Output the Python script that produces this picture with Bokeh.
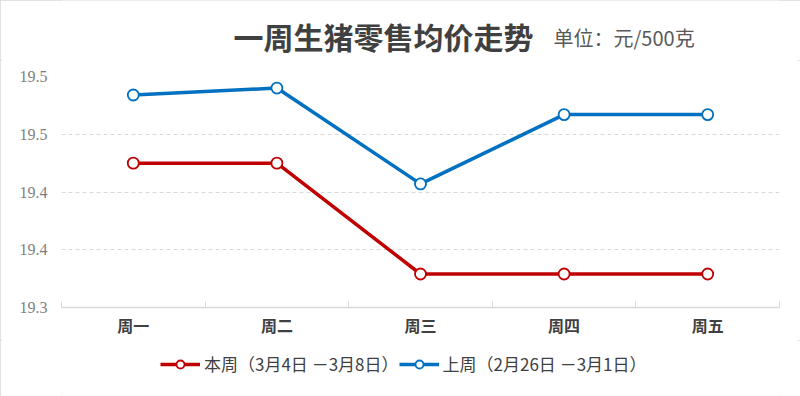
from bokeh.plotting import figure
from bokeh.layouts import column
from bokeh.models import FixedTicker, Label, Legend, LegendItem, ColumnDataSource, Range1d
from bokeh.embed import file_html
from bokeh.resources import INLINE

days = ["周一", "周二", "周三", "周四", "周五"]
this_week = [19.425, 19.425, 19.329, 19.329, 19.329]
last_week = [19.484, 19.49, 19.407, 19.467, 19.467]
y_ticks = [19.3, 19.35, 19.4, 19.45, 19.5]
y_tick_labels = ["19.3", "19.4", "19.4", "19.5", "19.5"]
title_text = "一周生猪零售均价走势"
unit_text = "单位：元/500克"
this_label = "本周（3月4日 －3月8日）"
last_label = "上周（2月26日 －3月1日）"

W = 800
HEAD_H = 60
MAIN_H = 280
FOOT_H = 396 - HEAD_H - MAIN_H
LEFT = 61
RIGHT = 779
red = "#C00000"
blue = "#0070C0"


def bare(fig):
    fig.axis.visible = False
    fig.grid.visible = False
    fig.outline_line_color = None


common = dict(output_backend="svg", toolbar_location=None,
              min_border_left=LEFT, min_border_right=W - RIGHT)

# header figure holding the title texts (frame aligned with the main chart)
h = figure(width=W, height=HEAD_H, x_range=Range1d(LEFT, RIGHT), y_range=Range1d(0, HEAD_H),
           min_border_top=0, min_border_bottom=0, **common)
bare(h)
h.add_layout(Label(x=383, y=HEAD_H - 35, text=title_text,
                   text_align="center", text_baseline="middle", text_font="Noto Sans CJK SC",
                   text_font_style="bold", text_font_size="30px", text_color="#404040"))
h.add_layout(Label(x=553, y=HEAD_H - 37, text=unit_text,
                   text_align="left", text_baseline="middle", text_font="Noto Sans CJK SC",
                   text_font_size="20px", text_color="#595959"))

# main chart
xs = [i + 0.5 for i in range(len(days))]
src = ColumnDataSource(dict(x=xs, a=this_week, b=last_week))

p = figure(width=W, height=MAIN_H,
           x_range=Range1d(0, len(days)), y_range=Range1d(y_ticks[0], y_ticks[-1]),
           min_border_top=76 - HEAD_H, min_border_bottom=HEAD_H + MAIN_H - 307, **common)
p.outline_line_color = None

p.xaxis.ticker = FixedTicker(ticks=xs, minor_ticks=list(range(len(days) + 1)))
p.xaxis.major_label_overrides = {x: d for x, d in zip(xs, days)}
p.xaxis.major_tick_line_color = None
p.xaxis.major_tick_in = 0
p.xaxis.major_tick_out = 0
p.xaxis.minor_tick_line_color = "#d9d9d9"
p.xaxis.minor_tick_in = 6
p.xaxis.minor_tick_out = 0
p.xaxis.axis_line_color = "#d9d9d9"
p.xaxis.axis_line_width = 1.5
p.xaxis.major_label_text_font = "Noto Sans CJK SC"
p.xaxis.major_label_text_font_style = "bold"
p.xaxis.major_label_text_font_size = "16px"
p.xaxis.major_label_text_color = "#404040"
p.xaxis.major_label_standoff = 5

p.yaxis.ticker = FixedTicker(ticks=y_ticks)
p.yaxis.major_label_overrides = {t: l for t, l in zip(y_ticks, y_tick_labels)}
p.yaxis.axis_line_color = None
p.yaxis.major_tick_line_color = None
p.yaxis.major_tick_in = 0
p.yaxis.major_tick_out = 0
p.yaxis.minor_tick_line_color = None
p.yaxis.major_label_text_font = "Liberation Serif"
p.yaxis.major_label_text_font_size = "16px"
p.yaxis.major_label_text_color = "#7f7f7f"
p.yaxis.major_label_standoff = 14

p.xgrid.grid_line_color = None
p.ygrid.grid_line_color = "#d9d9d9"
p.ygrid.grid_line_dash = "4 3"

p.line("x", "a", source=src, color=red, line_width=3.5)
p.scatter("x", "a", source=src, size=11, fill_color="white", line_color=red, line_width=1.8)
p.line("x", "b", source=src, color=blue, line_width=3.5)
p.scatter("x", "b", source=src, size=11, fill_color="white", line_color=blue, line_width=1.8)

# footer figure holding the legend (legend samples from styled placeholder renderers)
f = figure(width=W, height=FOOT_H, x_range=Range1d(LEFT, RIGHT), y_range=Range1d(0, FOOT_H),
           min_border_top=0, min_border_bottom=0, **common)
bare(f)
placeholder = ColumnDataSource(dict(x=[float("nan")], y=[float("nan")]))
l1 = f.line("x", "y", source=placeholder, color=red, line_width=3.5)
s1 = f.scatter("x", "y", source=placeholder, size=11, fill_color="white", line_color=red, line_width=1.8)
l2 = f.line("x", "y", source=placeholder, color=blue, line_width=3.5)
s2 = f.scatter("x", "y", source=placeholder, size=11, fill_color="white", line_color=blue, line_width=1.8)
legend = Legend(items=[LegendItem(label=this_label, renderers=[l1, s1]),
                       LegendItem(label=last_label, renderers=[l2, s2])],
                orientation="horizontal", location=(160 - LEFT, 20),
                glyph_width=40, glyph_height=20, label_standoff=4, spacing=0,
                padding=0, margin=0, border_line_color=None, background_fill_alpha=0,
                label_text_font="Noto Sans CJK SC", label_text_font_size="17px",
                label_text_color="#404040")
f.add_layout(legend, "center")

layout = column(h, p, f, spacing=0,
                styles={"outline": "2px solid #d9d9d9", "outline-offset": "-2px"})
open("out.html", "w").write(file_html(layout, INLINE))
